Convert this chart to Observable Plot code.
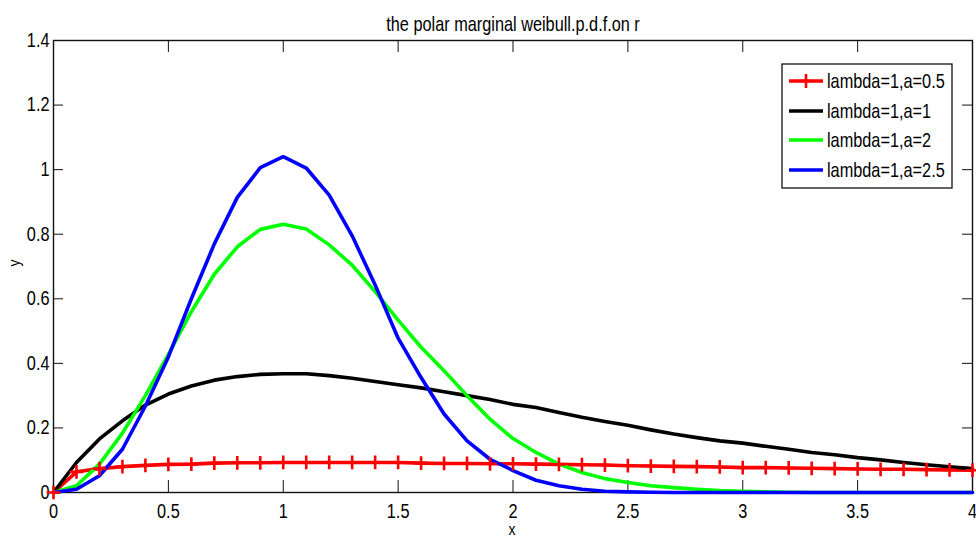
<!DOCTYPE html>
<html><head><meta charset="utf-8">
<script src="https://cdn.jsdelivr.net/npm/d3@7"></script>
<script src="https://cdn.jsdelivr.net/npm/@observablehq/plot@0.6"></script>
<style>body{margin:0;background:#fff} #chart svg{display:block}</style>
</head><body><div id="chart"></div>
<script>
const title = "the polar marginal weibull.p.d.f.on r";
const xLabel = "x";
const yLabel = "y";
const xTicks = [0, 0.5, 1, 1.5, 2, 2.5, 3, 3.5, 4];
const yTicks = [0, 0.2, 0.4, 0.6, 0.8, 1, 1.2, 1.4];
const seriesNames = ["lambda=1,a=0.5", "lambda=1,a=1", "lambda=1,a=2", "lambda=1,a=2.5"];
const seriesColors = ["#ff0000", "#000000", "#00ff00", "#0000ff"];

const xValues = [0,0.1,0.2,0.3,0.4,0.5,0.6,0.7,0.8,0.9,1.0,1.1,1.2,1.3,1.4,1.5,1.6,1.7,1.8,1.9,2.0,
  2.1,2.2,2.3,2.4,2.5,2.6,2.7,2.8,2.9,3.0,3.1,3.2,3.3,3.4,3.5,3.6,3.7,3.8,3.9,4.0];

const yA05 = [0,0.064,0.074,0.080,0.084,0.087,0.088,0.091,0.092,0.092,0.093,0.093,0.093,0.093,0.093,0.093,
  0.091,0.090,0.090,0.089,0.089,0.088,0.087,0.086,0.085,0.083,0.082,0.081,0.080,0.079,0.077,
  0.077,0.076,0.075,0.074,0.073,0.072,0.072,0.071,0.070,0.069];
const yA1 = [0,0.093,0.166,0.222,0.271,0.305,0.330,0.348,0.359,0.366,0.368,0.368,0.362,0.354,0.344,0.334,
  0.324,0.312,0.300,0.288,0.273,0.263,0.248,0.233,0.220,0.208,0.194,0.181,0.170,0.160,0.153,
  0.143,0.134,0.124,0.117,0.108,0.101,0.093,0.086,0.080,0.074];
const yA2 = [0,0.021,0.088,0.184,0.300,0.428,0.560,0.676,0.761,0.815,0.831,0.816,0.767,0.704,0.622,0.534,
  0.450,0.377,0.300,0.227,0.167,0.124,0.088,0.062,0.043,0.031,0.021,0.015,0.010,0.006,0.004,
  0.002,0.001,0,0,0,0,0,0,0,0];
const yA25 = [0,0.010,0.052,0.134,0.268,0.420,0.600,0.770,0.914,1.006,1.040,1.005,0.921,0.795,0.643,0.478,
  0.356,0.243,0.160,0.103,0.068,0.038,0.021,0.010,0.004,0.002,0.001,0,0,0,0,
  0,0,0,0,0,0,0,0,0,0];

const seriesY = [yA05, yA1, yA2, yA25];
const series = seriesY.map((ys, k) => xValues.map((x, i) => ({x, y: ys[i], s: seriesNames[k]})));

const FONT = "'Liberation Sans',Arial,sans-serif";
const FS = 16.3;       // font size (horizontal metrics)
const STRETCH = 1.22;  // vertical glyph stretch, as in the reference
const W = 976, H = 544, mL = 53, mR = 4, mT = 40, mB = 52;
const fw = W - mL - mR, fh = H - mT - mB;

const chart = Plot.plot({
  width: W, height: H,
  marginLeft: mL, marginRight: mR, marginTop: mT, marginBottom: mB,
  x: {domain: [0, 4]},
  y: {domain: [0, 1.4]},
  style: {fontFamily: FONT, fontSize: FS + "px", color: "#000", background: "#fff"},
  marks: [
    Plot.frame({stroke: "#111", strokeWidth: 1.4}),
    Plot.tickX(xTicks, {x: d => d, insetTop: fh - 12, stroke: "#111", strokeWidth: 1}),
    Plot.tickX(xTicks, {x: d => d, insetBottom: fh - 12, stroke: "#111", strokeWidth: 1}),
    Plot.tickY(yTicks, {y: d => d, insetRight: fw - 10, stroke: "#111", strokeWidth: 1}),
    Plot.tickY(yTicks, {y: d => d, insetLeft: fw - 10, stroke: "#111", strokeWidth: 1}),
    Plot.axisX(xTicks, {tickSize: 0, tickPadding: 11, tickFormat: d => String(d), label: null, fontSize: FS}),
    Plot.axisY(yTicks, {tickSize: 0, tickPadding: 4, tickFormat: d => String(d), label: null, fontSize: FS}),
    Plot.text([title], {text: d => d, frameAnchor: "top", dy: -24, fontSize: FS}),
    Plot.text([xLabel], {text: d => d, frameAnchor: "bottom", dy: 42, dx: -1, fontSize: 14}),
    Plot.text([yLabel], {text: d => d, frameAnchor: "left", dx: -39, rotate: -90, fontSize: 14}),
    ...series.map((data, k) => Plot.line(data, {x: "x", y: "y", stroke: seriesColors[k], strokeWidth: 3.6, strokeLinejoin: "round"})),
    Plot.dot(series[0], {x: "x", y: "y", symbol: "plus", r: 4.5, stroke: seriesColors[0], strokeWidth: 2.6})
  ]
});

document.getElementById("chart").appendChild(chart);

// stretch glyphs vertically around each text's anchor
chart.querySelectorAll("text").forEach(t => {
  const tr = t.getAttribute("transform") || "";
  t.setAttribute("transform", (tr + ` scale(1,${STRETCH})`).trim());
});

// legend box (layout only)
const svg = d3.select(chart);
const lg = svg.append("g");
lg.append("rect").attr("x", 782).attr("y", 64).attr("width", 170).attr("height", 124)
  .attr("fill", "#fff").attr("stroke", "#111").attr("stroke-width", 1.3);
const rowY = [81, 111, 140, 170];
seriesNames.forEach((name, k) => {
  const y = rowY[k];
  lg.append("line").attr("x1", 789).attr("x2", 823).attr("y1", y).attr("y2", y)
    .attr("stroke", seriesColors[k]).attr("stroke-width", 3.6);
  if (k === 0) {
    lg.append("path").attr("d", d3.symbol(d3.symbolPlus, 64)()).attr("transform", `translate(806,${y})`)
      .attr("fill", "none").attr("stroke", seriesColors[k]).attr("stroke-width", 2.6);
  }
  lg.append("text").attr("transform", `translate(827,${y}) scale(1,${STRETCH})`).attr("dy", "0.34em")
    .attr("text-anchor", "start")
    .attr("font-family", FONT).attr("font-size", FS).attr("fill", "#000").text(name);
});
</script></body></html>
